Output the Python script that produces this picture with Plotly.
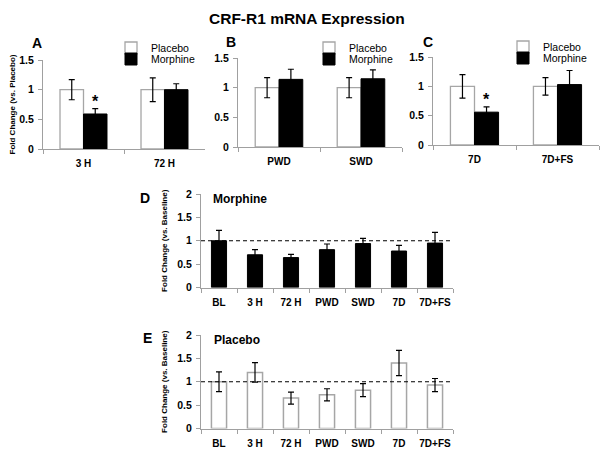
import plotly.graph_objects as go

W, H = 610, 456
OFF = 8  # the page body margin shifts the figure by 8 px right and down

# ---------------- data ----------------
cats_A = ["3 H", "72 H"]
placebo_A = [1.0, 1.0]
placebo_A_err = [0.17, 0.20]
morphine_A = [0.59, 1.0]
morphine_A_err = [0.09, 0.10]

cats_B = ["PWD", "SWD"]
placebo_B = [1.0, 1.0]
placebo_B_err = [0.17, 0.17]
morphine_B = [1.14, 1.15]
morphine_B_err = [0.17, 0.15]

cats_C = ["7D", "7D+FS"]
placebo_C = [1.0, 1.0]
placebo_C_err = [0.20, 0.15]
morphine_C = [0.56, 1.03]
morphine_C_err = [0.09, 0.24]

cats_DE = ["BL", "3 H", "72 H", "PWD", "SWD", "7D", "7D+FS"]
morphine_D = [1.0, 0.70, 0.64, 0.81, 0.94, 0.78, 0.95]
morphine_D_err = [0.22, 0.11, 0.07, 0.12, 0.11, 0.12, 0.23]
placebo_E = [1.0, 1.2, 0.65, 0.72, 0.82, 1.4, 0.93]
placebo_E_err = [0.21, 0.21, 0.13, 0.13, 0.14, 0.27, 0.14]

top_ticks = [0, 0.5, 1, 1.5]
top_ticklabels = ["0", "0.5", "1", "1.5"]
bot_ticks = [0, 0.5, 1, 1.5, 2]
bot_ticklabels = ["0", "0.5", "1", "1.5", "2"]

# ---------------- style ----------------
FONT = "Liberation Sans, Arial, sans-serif"
AX = "#a0a0a0"
PLAC_LINE = "#a6a6a6"


def px_x(p):
    return (p - OFF) / W


def px_y(p):
    return 1 - (p - OFF) / H


fig = go.Figure()

panels = [
    ("x", "y", cats_A, placebo_A, placebo_A_err, morphine_A, morphine_A_err, "legend", "legend4"),
    ("x2", "y2", cats_B, placebo_B, placebo_B_err, morphine_B, morphine_B_err, "legend2", "legend5"),
    ("x3", "y3", cats_C, placebo_C, placebo_C_err, morphine_C, morphine_C_err, "legend3", "legend6"),
]

err_style = dict(type="data", color="black", thickness=1.2, width=3, visible=True)

for xa, ya, cats, pv, pe, mv, me, lgp, lgm in panels:
    fig.add_trace(go.Bar(
        x=cats, y=pv, name="Placebo", xaxis=xa, yaxis=ya, legend=lgp,
        marker=dict(color="white", line=dict(color=PLAC_LINE, width=1.3)),
        error_y=dict(array=pe, **err_style),
    ))
    fig.add_trace(go.Bar(
        x=cats, y=mv, name="Morphine", xaxis=xa, yaxis=ya, legend=lgm,
        marker=dict(color="black", line=dict(color="black", width=1)),
        error_y=dict(array=me, **err_style),
    ))

fig.add_trace(go.Bar(
    x=cats_DE, y=morphine_D, name="Morphine", xaxis="x4", yaxis="y4",
    showlegend=False, width=0.42,
    marker=dict(color="black", line=dict(color="black", width=1)),
    error_y=dict(array=morphine_D_err, **err_style),
))
fig.add_trace(go.Bar(
    x=cats_DE, y=placebo_E, name="Placebo", xaxis="x5", yaxis="y5",
    showlegend=False, width=0.42,
    marker=dict(color="white", line=dict(color=PLAC_LINE, width=1.5)),
    error_y=dict(array=placebo_E_err, **err_style),
))

tickfont = dict(family=FONT, size=10.5, color="black", weight="bold")
xtickfont = dict(family=FONT, size=10, color="black", weight="bold")


def xaxis(dom, anchor):
    return dict(domain=dom, anchor=anchor, type="category", showline=True,
                linecolor=AX, linewidth=1, ticks="outside", tickson="boundaries",
                ticklen=4, tickcolor=AX, showgrid=False, zeroline=False,
                tickangle=0, automargin=False, ticklabelstandoff=5,
                tickfont=xtickfont, fixedrange=True)


def yaxis(dom, anchor, rng, tv, tt, title=None, standoff=8):
    d = dict(domain=dom, anchor=anchor, range=rng, showline=True, linecolor=AX,
             linewidth=1, ticks="outside", ticklen=4, tickcolor=AX,
             tickvals=tv, ticktext=tt, showgrid=False, zeroline=False,
             automargin=False, ticklabelstandoff=2, tickfont=tickfont, fixedrange=True)
    if title:
        d["title"] = dict(text=title, standoff=standoff,
                          font=dict(family=FONT, size=8, color="black", weight="bold"))
    return d


fig.update_layout(
    width=W, height=H,
    margin=dict(l=0, r=0, t=0, b=0, autoexpand=False),
    paper_bgcolor="white", plot_bgcolor="white",
    barmode="group", bargap=0.42, bargroupgap=0,
    font=dict(family=FONT, color="black"),
    xaxis=xaxis([px_x(43), px_x(205)], "y"),
    yaxis=yaxis([px_y(149), px_y(60)], "x", [0, 1.5], top_ticks, top_ticklabels,
                "Fold Change (vs. Placebo)", standoff=6),
    xaxis2=xaxis([px_x(238), px_x(402)], "y2"),
    yaxis2=yaxis([px_y(147), px_y(58)], "x2", [0, 1.5], top_ticks, top_ticklabels),
    xaxis3=xaxis([px_x(433), px_x(599)], "y3"),
    yaxis3=yaxis([px_y(145), px_y(57)], "x3", [0, 1.5], top_ticks, top_ticklabels),
    xaxis4=xaxis([px_x(201), px_x(453)], "y4"),
    yaxis4=yaxis([px_y(287.5), px_y(194)], "x4", [0, 2], bot_ticks, bot_ticklabels,
                 "Fold Change (vs. Baseline)", standoff=8),
    xaxis5=xaxis([px_x(201), px_x(453)], "y5"),
    yaxis5=yaxis([px_y(428.5), px_y(335)], "x5", [0, 2], bot_ticks, bot_ticklabels,
                 "Fold Change (vs. Baseline)", standoff=8),
)

leg_common = dict(font=dict(family=FONT, size=10.5, color="black"),
                  bgcolor="rgba(0,0,0,0)", borderwidth=0, itemwidth=30,
                  tracegroupgap=0, xanchor="left", yanchor="middle",
                  itemclick=False, itemdoubleclick=False)
# one single-entry legend per legend row, so rows sit as close as in the original
legend_pos = {
    "legend": (111, 48), "legend4": (111, 59),
    "legend2": (309, 48), "legend5": (309, 59),
    "legend3": (503, 47), "legend6": (503, 58),
}
fig.update_layout(**{k: dict(x=px_x(x), y=px_y(y), **leg_common) for k, (x, y) in legend_pos.items()})

# dashed reference lines at baseline = 1
for xa, ya in [("x4", "y4"), ("x5", "y5")]:
    fig.add_shape(type="line", xref=f"{xa} domain", yref=ya, x0=0, x1=1, y0=1, y1=1,
                  line=dict(color="black", width=1.2, dash="4px,3px"))

ann = []
# title
ann.append(dict(text="CRF-R1 mRNA Expression", xref="paper", yref="paper",
                x=px_x(307), y=px_y(18.5), showarrow=False, xanchor="center", yanchor="middle",
                font=dict(family=FONT, size=15.5, color="black", weight="bold")))
# panel letters
for letter, lx, ly in [("A", 37, 43), ("B", 231, 42), ("C", 428, 42), ("D", 145, 198), ("E", 147, 338)]:
    ann.append(dict(text=letter, xref="paper", yref="paper", x=px_x(lx), y=px_y(ly),
                    showarrow=False, xanchor="center", yanchor="middle",
                    font=dict(family=FONT, size=14, color="black", weight="bold")))
# significance stars
for xa, ya, cats, mv, me in [("x", "y", cats_A, morphine_A, morphine_A_err),
                             ("x3", "y3", cats_C, morphine_C, morphine_C_err)]:
    ann.append(dict(text="*", xref=xa, yref=ya, x=cats[0], y=mv[0] + me[0],
                    xshift=12, yshift=-3, showarrow=False, xanchor="center", yanchor="bottom",
                    font=dict(family=FONT, size=16, color="black", weight="bold")))
# panel labels inside D / E
ann.append(dict(text="Morphine", xref="x4 domain", yref="y4 domain", x=0.04, y=0.95,
                showarrow=False, xanchor="left", yanchor="middle",
                font=dict(family=FONT, size=12, color="black", weight="bold")))
ann.append(dict(text="Placebo", xref="x5 domain", yref="y5 domain", x=0.045, y=0.95,
                showarrow=False, xanchor="left", yanchor="middle",
                font=dict(family=FONT, size=12, color="black", weight="bold")))
fig.update_layout(annotations=ann)

fig.write_html("out.html")
